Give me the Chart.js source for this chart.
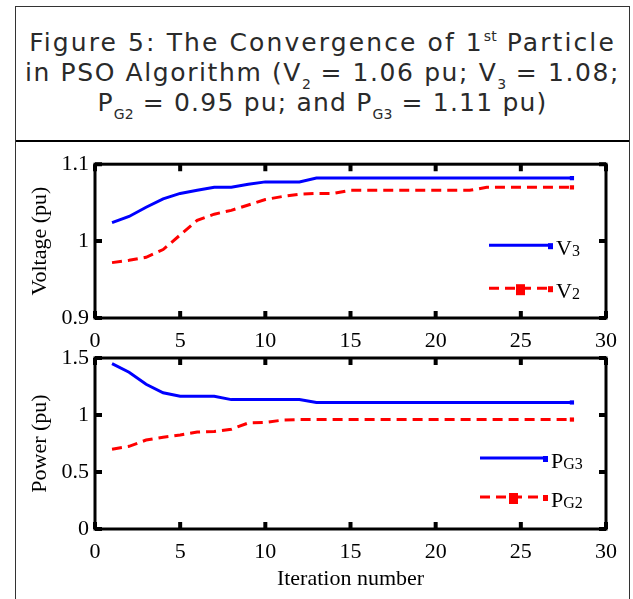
<!DOCTYPE html>
<html>
<head>
<meta charset="utf-8">
<script src="https://cdn.jsdelivr.net/npm/chart.js@4"></script>
<style>
body { margin: 0; background: #fff; }
#caja { position: absolute; left: 15px; top: 6px; width: 615px; height: 600px; border: 1px solid #333; border-bottom: none; box-sizing: border-box; }
#titulo { position: absolute; left: 0; top: 0; width: 613px; height: 135px; border-bottom: 2px solid #000; box-sizing: border-box;
  font-family: "DejaVu Sans", sans-serif; font-weight: 400; font-size: 25px; line-height: 30px; text-align: center; padding-top: 21px; color: #2a2a2a; white-space: nowrap; }
#l1 { letter-spacing: 2.1px; }
#l2 { letter-spacing: 1.6px; }
#l3 { letter-spacing: 1.2px; }
.sb { font-size: 14px; line-height: 0; position: relative; top: 8px; letter-spacing: 0; }
.sp { font-size: 14px; line-height: 0; position: relative; top: -10px; letter-spacing: 0; }
canvas { position: absolute; }
</style>
</head>
<body>
<div id="caja">
  <div id="titulo"><span id="l1">Figure 5: The Convergence of 1<span class="sp">st</span> Particle</span><br><span id="l2">in PSO Algorithm (V<span class="sb">2</span> = 1.06 pu; V<span class="sb">3</span> = 1.08;</span><br><span id="l3">P<span class="sb">G2</span> = 0.95 pu; and P<span class="sb">G3</span> = 1.11 pu)</span></div>
</div>
<canvas id="grafica1" width="612" height="205" style="left:16px;top:145px"></canvas>
<canvas id="grafica2" width="612" height="264" style="left:16px;top:335px"></canvas>
<script>
// Iteraciones
const iteraciones = [1,2,3,4,5,6,7,8,9,10,11,12,13,14,15,16,17,18,19,20,21,22,23,24,25,26,27,28];

// Voltajes (pu)
const v3 = [1.024,1.032,1.044,1.055,1.062,1.066,1.070,1.070,1.074,1.077,1.077,1.077,1.082,1.082,1.082,1.082,1.082,1.082,1.082,1.082,1.082,1.082,1.082,1.082,1.082,1.082,1.082,1.082];
const v2 = [0.972,0.975,0.979,0.989,1.008,1.027,1.035,1.040,1.047,1.054,1.058,1.061,1.062,1.062,1.066,1.066,1.066,1.066,1.066,1.066,1.066,1.066,1.070,1.070,1.070,1.070,1.070,1.070];

// Potencias (pu)
const pg3 = [1.45,1.375,1.27,1.195,1.165,1.165,1.165,1.135,1.135,1.135,1.135,1.135,1.11,1.11,1.11,1.11,1.11,1.11,1.11,1.11,1.11,1.11,1.11,1.11,1.11,1.11,1.11,1.11];
const pg2 = [0.70,0.725,0.78,0.805,0.825,0.85,0.855,0.875,0.93,0.935,0.955,0.96,0.96,0.96,0.96,0.96,0.96,0.96,0.96,0.96,0.96,0.96,0.96,0.96,0.96,0.96,0.96,0.96];

// Ticks
const ticksX = [0,5,10,15,20,25,30];
const ticksV = [0.9,1,1.1];
const ticksP = [0,0.5,1,1.5];

const fuente = '"Liberation Serif", "Times New Roman", serif';

function puntos(ys) {
    return iteraciones.map((x, i) => ({ x: x, y: ys[i] }));
}

function serie(nombre, ys, color, guiones) {
    return {
        label: nombre,
        data: puntos(ys),
        borderColor: color,
        backgroundColor: color,
        borderWidth: 3,
        borderDash: guiones,
        pointStyle: 'rect',
        pointRadius: c => c.dataIndex === ys.length - 1 ? 3 : 0,
        pointBorderWidth: 0,
        tension: 0
    };
}

// Marco, ticks hacia dentro y leyenda
const marco = {
    id: 'marco',
    afterDraw(chart) {
        const ctx = chart.ctx;
        const a = chart.chartArea;
        const xs = chart.scales.x;
        const ys = chart.scales.y;
        const op = chart.options.plugins.marco;
        ctx.save();
        ctx.strokeStyle = '#000';
        ctx.lineWidth = 3;
        ctx.strokeRect(a.left, a.top, a.right - a.left, a.bottom - a.top);
        ctx.lineWidth = 4;
        op.ticksX.forEach(t => {
            const px = xs.getPixelForValue(t);
            ctx.beginPath();
            ctx.moveTo(px, a.bottom); ctx.lineTo(px, a.bottom - 7);
            ctx.moveTo(px, a.top); ctx.lineTo(px, a.top + 7);
            ctx.stroke();
        });
        op.ticksY.forEach(t => {
            const py = ys.getPixelForValue(t);
            ctx.beginPath();
            ctx.moveTo(a.left, py); ctx.lineTo(a.left + 7, py);
            ctx.moveTo(a.right, py); ctx.lineTo(a.right - 7, py);
            ctx.stroke();
        });
        // Leyenda
        op.leyenda.forEach(it => {
            const y = a.top + it.dy;
            const x0 = a.right - op.x0;
            const x1 = a.right - op.x1;
            const ds = chart.data.datasets[it.ds];
            ctx.strokeStyle = ds.borderColor;
            ctx.fillStyle = ds.borderColor;
            ctx.lineWidth = 3;
            ctx.setLineDash(ds.borderDash || []);
            ctx.beginPath();
            ctx.moveTo(x0, y); ctx.lineTo(x1, y);
            ctx.stroke();
            ctx.setLineDash([]);
            ctx.fillRect(x1 - 5, y - 2, 5, 6);
            if (ds.borderDash && ds.borderDash.length) {
                ctx.fillRect((x0 + x1) / 2 - 5, y - 4, 9, 11);
            }
            ctx.fillStyle = '#000';
            ctx.textBaseline = 'alphabetic';
            ctx.textAlign = 'left';
            ctx.font = '22px ' + fuente;
            ctx.fillText(it.base, x1 + 3, y + 10);
            const w = ctx.measureText(it.base).width;
            ctx.font = '16px ' + fuente;
            ctx.fillText(it.sub, x1 + 3 + w, y + 11);
        });
        ctx.restore();
    }
};

function opciones(cfg) {
    return {
        responsive: false,
        animation: false,
        devicePixelRatio: 1,
        layout: { padding: { top: cfg.arriba, right: 22, left: 0, bottom: 0 } },
        plugins: {
            legend: { display: false },
            tooltip: { enabled: false },
            marco: cfg.marco
        },
        scales: {
            x: {
                type: 'linear',
                min: 0,
                max: 30,
                afterFit: s => { s.height = cfg.altoX; },
                grid: { display: false, drawTicks: false },
                border: { display: false },
                ticks: { stepSize: 5, padding: 10, color: '#000', font: { family: fuente, size: 22 } },
                title: {
                    display: !!cfg.tituloX,
                    text: cfg.tituloX || '',
                    color: '#000',
                    font: { family: fuente, size: 22 },
                    padding: { top: 0, bottom: 7 }
                }
            },
            y: {
                min: cfg.minY,
                max: cfg.maxY,
                afterFit: s => { s.width = 79; },
                grid: { display: false, drawTicks: false },
                border: { display: false },
                ticks: {
                    stepSize: cfg.pasoY,
                    padding: 6,
                    color: '#000',
                    font: { family: fuente, size: 22 },
                    callback: v => String(+v.toFixed(2))
                },
                title: {
                    display: true,
                    text: cfg.tituloY,
                    color: '#000',
                    font: { family: fuente, size: 22 },
                    padding: { top: 11, bottom: 0 }
                }
            }
        }
    };
}

new Chart(document.getElementById('grafica1'), {
    type: 'line',
    data: {
        datasets: [
            serie('V3', v3, '#0000ff', []),
            serie('V2', v2, '#ff0000', [10, 6])
        ]
    },
    options: opciones({
        arriba: 18, altoX: 32, minY: 0.9, maxY: 1.1, pasoY: 0.1, tituloY: 'Voltage (pu)',
        marco: {
            ticksX: ticksX, ticksY: ticksV, x0: 117, x1: 53,
            leyenda: [
                { ds: 0, dy: 81, base: 'V', sub: '3' },
                { ds: 1, dy: 124, base: 'V', sub: '2' }
            ]
        }
    }),
    plugins: [marco]
});

new Chart(document.getElementById('grafica2'), {
    type: 'line',
    data: {
        datasets: [
            serie('PG3', pg3, '#0000ff', []),
            serie('PG2', pg2, '#ff0000', [10, 6])
        ]
    },
    options: opciones({
        arriba: 23, altoX: 70, minY: 0, maxY: 1.5, pasoY: 0.5, tituloY: 'Power (pu)', tituloX: 'Iteration number',
        marco: {
            ticksX: ticksX, ticksY: ticksP, x0: 126, x1: 58,
            leyenda: [
                { ds: 0, dy: 100, base: 'P', sub: 'G3' },
                { ds: 1, dy: 139, base: 'P', sub: 'G2' }
            ]
        }
    }),
    plugins: [marco]
});
</script>
</body>
</html>
